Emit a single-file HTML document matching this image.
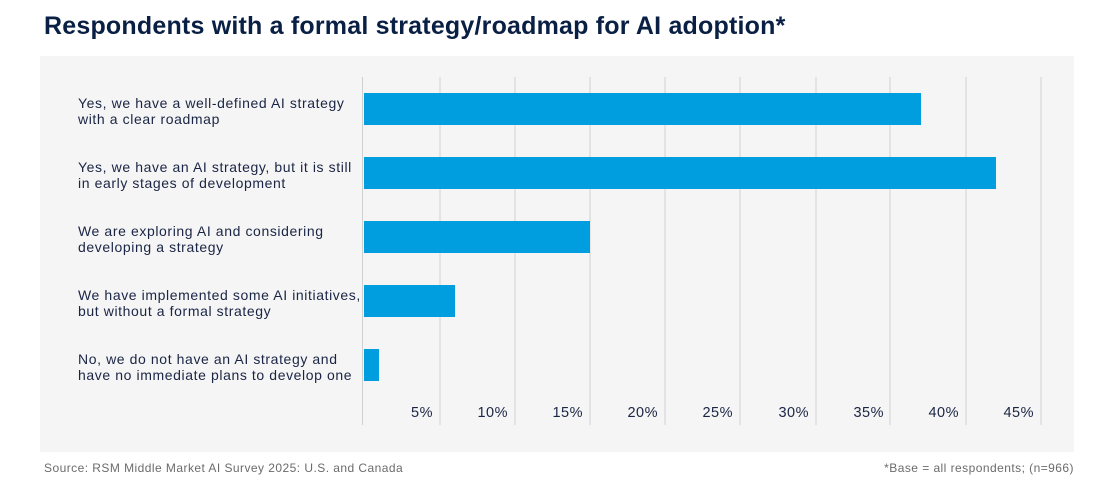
<!DOCTYPE html>
<html><head><style>
body{margin:0;width:1100px;height:496px;background:#fff;font-family:"Liberation Sans",sans-serif;position:relative;overflow:hidden}
.t{position:absolute;left:44px;top:12px;font-size:25px;font-weight:bold;color:#0a1f44;letter-spacing:0.2px}
.p{position:absolute;left:40px;top:56px;width:1034px;height:396px;background:#f5f5f5}
.g{position:absolute;top:77px;height:348px;width:2px;background:#e3e3e3}
.b{position:absolute;left:364px;height:32px;background:#009ddf}
.l{position:absolute;left:78px;font-size:14px;color:#1a2544;line-height:16px;letter-spacing:0.6px;white-space:nowrap}
.x{position:absolute;top:405px;font-size:14.5px;color:#1a2544;text-align:right;width:60px;letter-spacing:0.5px}
.s{position:absolute;top:461px;font-size:12px;color:#6b6b6b;letter-spacing:0.45px}
</style></head><body>
<div class="t">Respondents with a formal strategy/roadmap for AI adoption*</div>
<div class="p"></div>
<div class="g" style="left:362px;width:1px;background:#d0d0d0"></div>
<div class="g" style="left:439px"></div><div class="g" style="left:514px"></div><div class="g" style="left:589px"></div><div class="g" style="left:664px"></div><div class="g" style="left:739px"></div><div class="g" style="left:815px"></div><div class="g" style="left:889px"></div><div class="g" style="left:965px"></div><div class="g" style="left:1040px"></div>
<div class="b" style="top:93px;width:557px"></div>
<div class="b" style="top:157px;width:632px"></div>
<div class="b" style="top:221px;width:226px"></div>
<div class="b" style="top:285px;width:91px"></div>
<div class="b" style="top:349px;width:15px"></div>
<div class="l" style="top:95px">Yes, we have a well-defined AI strategy<br>with a clear roadmap</div>
<div class="l" style="top:159px">Yes, we have an AI strategy, but it is still<br>in early stages of development</div>
<div class="l" style="top:223px">We are exploring AI and considering<br>developing a strategy</div>
<div class="l" style="top:287px">We have implemented some AI initiatives,<br>but without a formal strategy</div>
<div class="l" style="top:351px">No, we do not have an AI strategy and<br>have no immediate plans to develop one</div>
<div class="x" style="left:373px">5%</div><div class="x" style="left:448px">10%</div><div class="x" style="left:523px">15%</div><div class="x" style="left:598px">20%</div><div class="x" style="left:673px">25%</div><div class="x" style="left:749px">30%</div><div class="x" style="left:824px">35%</div><div class="x" style="left:899px">40%</div><div class="x" style="left:974px">45%</div>
<div class="s" style="left:44px">Source: RSM Middle Market AI Survey 2025: U.S. and Canada</div>
<div class="s" style="right:26px">*Base = all respondents; (n=966)</div>
</body></html>
